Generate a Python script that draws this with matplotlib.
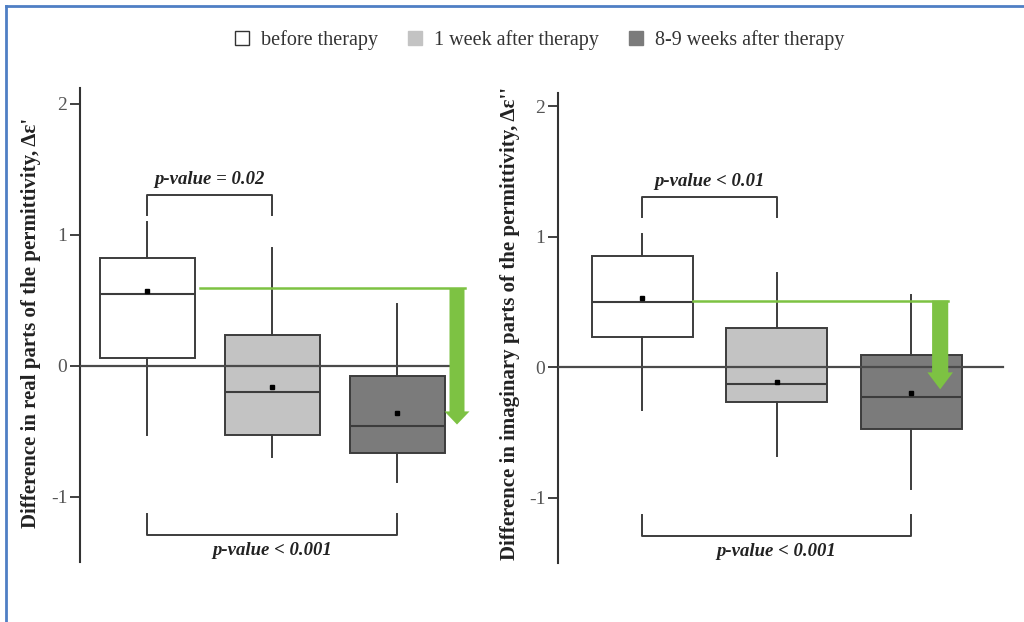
import matplotlib
matplotlib.use("Agg")
import matplotlib.pyplot as plt
from matplotlib.patches import Patch
from matplotlib.lines import Line2D

# ---------------- data ----------------
groups = ["before therapy", "1 week after therapy", "8-9 weeks after therapy"]
box_colors = ["#ffffff", "#c3c3c3", "#7b7b7b"]

# real part (left panel)
real_whislo = [-0.53, -0.70, -0.89]
real_q1     = [0.06, -0.53, -0.67]
real_med    = [0.55, -0.20, -0.46]
real_q3     = [0.82, 0.23, -0.08]
real_whishi = [1.10, 0.90, 0.47]
real_mean   = [0.57, -0.16, -0.36]

# imaginary part (right panel)
imag_whislo = [-0.33, -0.68, -0.93]
imag_q1     = [0.23, -0.27, -0.47]
imag_med    = [0.50, -0.13, -0.23]
imag_q3     = [0.85, 0.30, 0.09]
imag_whishi = [1.02, 0.72, 0.55]
imag_mean   = [0.53, -0.11, -0.20]

yticks = [-1, 0, 1, 2]
ytick_labels = ["-1", "0", "1", "2"]
ylabels = ["Difference in real parts of the permittivity, \u0394\u03b5'",
           "Difference in imaginary parts of the permittivity, \u0394\u03b5''"]
pval_top = ["p-value = 0.02", "p-value < 0.01"]
pval_bottom = ["p-value < 0.001", "p-value < 0.001"]

# green trend: start level, arrow tip
trend_start = [0.59, 0.51]
trend_end = [-0.45, -0.17]

GREEN = "#7dc243"
EDGE = "#3c3c3c"
SERIF = ["Liberation Serif", "DejaVu Serif"]

fig = plt.figure(figsize=(10.24, 6.22), dpi=100)
fig.patch.set_facecolor("white")

# axes placement (figure fractions)
ax_specs = [
    dict(rect=[80/1024, 1-562/622, 392/1024, (562-88)/622], xlim=(0.464, 3.6), ylim=(-1.5, 2.12),
         width=0.76, zero_end=3.44, green_x0=1.424, arrow_x=3.48, shaft=0.12, head_w=0.20, head_l=0.10),
    dict(rect=[558/1024, 1-563/622, 454/1024, (563-93)/622], xlim=(0.375, 3.75), ylim=(-1.5, 2.10),
         width=0.75, zero_end=3.68, green_x0=1.38, arrow_x=3.216, shaft=0.12, head_w=0.19, head_l=0.13),
]

datasets = [
    (real_whislo, real_q1, real_med, real_q3, real_whishi, real_mean),
    (imag_whislo, imag_q1, imag_med, imag_q3, imag_whishi, imag_mean),
]

for i, (spec, data) in enumerate(zip(ax_specs, datasets)):
    ax = fig.add_axes(spec["rect"])
    ax.set_xlim(*spec["xlim"])
    ax.set_ylim(*spec["ylim"])
    wlo, q1, med, q3, whi, mean = data
    stats = []
    for k in range(3):
        stats.append(dict(whislo=wlo[k], q1=q1[k], med=med[k], q3=q3[k], whishi=whi[k],
                          mean=mean[k], fliers=[], label=groups[k]))
    bp = ax.bxp(stats, positions=[1, 2, 3], widths=spec["width"], patch_artist=True,
                showmeans=True, showcaps=False, showfliers=False,
                boxprops=dict(edgecolor=EDGE, linewidth=1.4),
                medianprops=dict(color=EDGE, linewidth=1.5),
                whiskerprops=dict(color=EDGE, linewidth=1.4),
                meanprops=dict(marker="s", markersize=2.8, markerfacecolor="black",
                               markeredgecolor="black"))
    for patch, c in zip(bp["boxes"], box_colors):
        patch.set_facecolor(c)

    # zero line
    ax.plot([spec["xlim"][0], spec["zero_end"]], [0, 0], color="#4a4a4a", lw=1.6, zorder=4)

    # green trend line + arrow
    ax.plot([spec["green_x0"], spec["arrow_x"] + spec["shaft"] / 2], [trend_start[i], trend_start[i]],
            color=GREEN, lw=1.8, zorder=3)
    ax.arrow(spec["arrow_x"], trend_start[i], 0, trend_end[i] - trend_start[i],
             width=spec["shaft"], head_width=spec["head_w"], head_length=spec["head_l"],
             length_includes_head=True, color=GREEN, zorder=5, linewidth=0)

    # top bracket (groups 1-2)
    yb, yl = 1.30, 1.15
    ax.plot([1, 1, 2, 2], [yl, yb, yb, yl], color=EDGE, lw=1.4)
    ax.text(1.5, yb + 0.06, pval_top[i], ha="center", va="bottom", fontsize=13.5,
            fontweight="bold", fontstyle="italic", family=SERIF, color="#222222")
    # bottom bracket (groups 1-3)
    yb2, yl2 = -1.29, -1.13
    ax.plot([1, 1, 3, 3], [yl2, yb2, yb2, yl2], color=EDGE, lw=1.4)
    ax.text(2.0, yb2 - 0.06, pval_bottom[i], ha="center", va="top", fontsize=13.5,
            fontweight="bold", fontstyle="italic", family=SERIF, color="#222222")

    # axes styling
    for s in ["top", "right", "bottom"]:
        ax.spines[s].set_visible(False)
    ax.spines["left"].set_color("#333333")
    ax.spines["left"].set_linewidth(1.5)
    ax.set_xticks([])
    ax.set_yticks(yticks)
    ax.set_yticklabels(ytick_labels, family=SERIF, fontsize=14, color="#555555")
    ax.tick_params(axis="y", direction="out", length=7, width=1.3, color="#333333", pad=2)
    ax.set_ylabel(ylabels[i], family=SERIF, fontsize=15, fontweight="bold", color="#222222")
    ax.patch.set_alpha(0)

fig.axes[0].yaxis.set_label_coords(-(80 - 41) / 392, 0.505)
fig.axes[1].yaxis.set_label_coords(-(558 - 520) / 454, 0.51)

# legend
handles = [Patch(facecolor=c, edgecolor=("#333333" if j == 0 else c), linewidth=1.0)
           for j, c in enumerate(box_colors)]
fig.legend(handles, groups, loc="center", bbox_to_anchor=(0.527, 1 - 40 / 622), ncol=3,
           frameon=False, prop=dict(family=SERIF, size=14.5), handlelength=0.7, handleheight=0.7,
           handletextpad=0.6, columnspacing=1.5, labelcolor="#333333")

# blue frame (top and left edges)
fig.add_artist(Line2D([6 / 1024, 6 / 1024], [0, 1 - 6 / 622], transform=fig.transFigure,
                      color="#4f7fc4", lw=2))
fig.add_artist(Line2D([6 / 1024, 1], [1 - 6 / 622, 1 - 6 / 622], transform=fig.transFigure,
                      color="#4f7fc4", lw=2))

fig.savefig("out.png", dpi=100, facecolor="white")
